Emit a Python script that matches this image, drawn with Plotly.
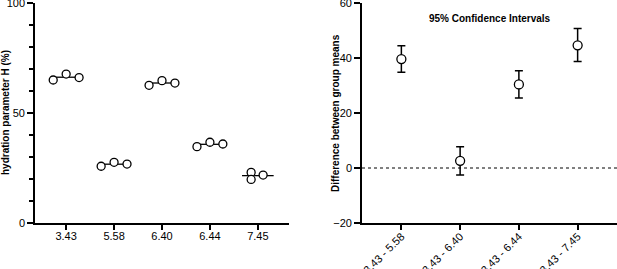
import plotly.graph_objects as go

# ---- Data ----
groups = ["3.43", "5.58", "6.40", "6.44", "7.45"]
h_values = [
    [65.0, 67.7, 66.1],
    [25.8, 27.6, 26.8],
    [62.6, 64.7, 63.6],
    [34.7, 36.7, 35.9],
    [23.0, 19.8, 21.8],
]
jitter = [
    [-0.27, 0.0, 0.27],
    [-0.27, 0.0, 0.27],
    [-0.27, 0.0, 0.27],
    [-0.27, 0.0, 0.27],
    [-0.14, -0.14, 0.11],
]

comparisons = ["3.43 - 5.58", "3.43 - 6.40", "3.43 - 6.44", "3.43 - 7.45"]
diff_mean = [39.6, 2.6, 30.4, 44.6]
ci_low = [34.8, -2.5, 25.5, 38.7]
ci_high = [44.5, 7.7, 35.4, 50.7]

FONT = "Liberation Sans, Arial, sans-serif"

fig = go.Figure()

# mean lines (left)
for i, vals in enumerate(h_values):
    m = sum(vals) / len(vals)
    fig.add_trace(go.Scatter(
        x=[i - 0.33, i + 0.33], y=[m, m], mode="lines",
        line=dict(color="black", width=1.3), showlegend=False,
        xaxis="x", yaxis="y", hoverinfo="skip"))

# points (left)
xs, ys = [], []
for i, vals in enumerate(h_values):
    for j, v in enumerate(vals):
        xs.append(i + jitter[i][j])
        ys.append(v)
fig.add_trace(go.Scatter(
    x=xs, y=ys, mode="markers",
    marker=dict(symbol="circle", size=8, color="white",
                line=dict(color="black", width=1.3)),
    showlegend=False, xaxis="x", yaxis="y"))

# right: CI
fig.add_trace(go.Scatter(
    x=list(range(len(comparisons))), y=diff_mean, mode="markers",
    marker=dict(symbol="circle", size=9, color="white",
                line=dict(color="black", width=1.3)),
    error_y=dict(type="data", symmetric=False,
                 array=[h - m for h, m in zip(ci_high, diff_mean)],
                 arrayminus=[m - l for m, l in zip(diff_mean, ci_low)],
                 color="black", thickness=1.5, width=4),
    showlegend=False, xaxis="x2", yaxis="y2"))

axis_common = dict(showline=True, linecolor="black", linewidth=1.6,
                   ticks="outside", tickcolor="black", tickwidth=1.5,
                   showgrid=False, zeroline=False, ticklabeloverflow="allow",
                   automargin=False,
                   tickfont=dict(family=FONT, size=11, color="black"))

fig.update_layout(
    width=617, height=269,
    margin=dict(l=0, r=0, t=3, b=46, autoexpand=False),
    paper_bgcolor="white", plot_bgcolor="white",
    font=dict(family=FONT, color="black"),
    xaxis=dict(domain=[35 / 617, 289 / 617], range=[-0.65, 4.65],
               tickvals=list(range(len(groups))), ticktext=groups,
               ticklen=5, ticklabelstandoff=-3, anchor="y", **axis_common),
    yaxis=dict(domain=[0, 1], range=[0, 100], tickvals=[0, 50, 100],
               ticklen=6, anchor="x",
               minor=dict(dtick=10, ticks="outside", ticklen=4,
                          tickcolor="black", tickwidth=1.5),
               **axis_common),
    xaxis2=dict(domain=[362 / 617, 1.0], range=[-0.67, 3.67],
                tickvals=list(range(len(comparisons))), ticktext=comparisons,
                tickangle=-45, ticklen=5, ticklabelstandoff=-4,
                anchor="y2", **axis_common),
    yaxis2=dict(domain=[0, 1], range=[-20, 60], tickvals=[-20, 0, 20, 40, 60],
                ticklen=6, anchor="x2", **axis_common),
    shapes=[dict(type="line", xref="x2 domain", yref="y2",
                 x0=0, x1=1, y0=0, y1=0,
                 line=dict(color="black", width=1, dash="dot"), layer="below")],
    annotations=[
        dict(text="<b>hydration parameter H (%)</b>", textangle=-90,
             xref="paper", yref="paper", x=5 / 617, y=0.5,
             xanchor="center", yanchor="middle", showarrow=False,
             font=dict(family=FONT, size=10, color="black")),
        dict(text="<b>Difference between group means</b>", textangle=-90,
             xref="paper", yref="paper", x=335 / 617, y=0.5,
             xanchor="center", yanchor="middle", showarrow=False,
             font=dict(family=FONT, size=10, color="black")),
        dict(text="<b>95% Confidence Intervals</b>",
             xref="paper", yref="paper", x=490 / 617, y=(223 - 18) / 220,
             xanchor="center", yanchor="middle", showarrow=False,
             font=dict(family=FONT, size=10, color="black")),
    ],
)

fig.write_html("out.html", config={"displayModeBar": False},
               post_script="document.body.style.margin='0';document.body.style.overflow='hidden';")
